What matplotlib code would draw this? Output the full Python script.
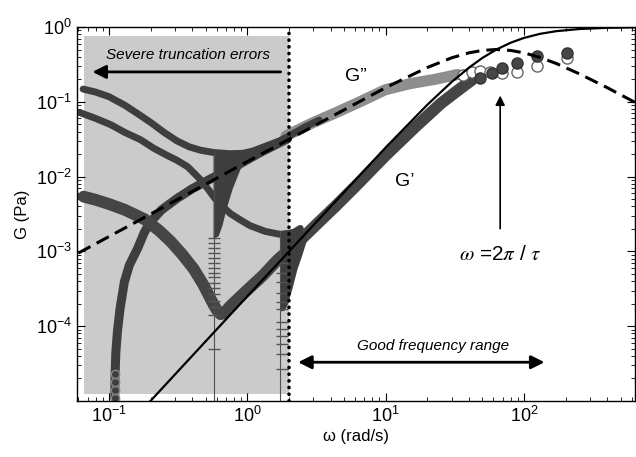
import matplotlib
matplotlib.use("Agg")
import matplotlib.pyplot as plt

plt.rcParams['font.family'] = ['Liberation Sans', 'DejaVu Sans']
plt.rcParams['mathtext.fontset'] = 'stix'

# Maxwell model curves
model_w = [0.06, 0.19, 1, 10, 20, 30, 40, 50, 63, 80, 100, 130, 170, 250, 400, 700]
g_loss_model = [9.5e-4, 3.0e-3, 0.0159, 0.155, 0.288, 0.388, 0.452, 0.487, 0.5,
                0.486, 0.451, 0.392, 0.326, 0.237, 0.154, 0.089]
g_store_model = [9.1e-7, 9.1e-6, 2.52e-4, 0.0246, 0.0916, 0.185, 0.287, 0.387, 0.5,
                 0.617, 0.716, 0.81, 0.879, 0.94, 0.976, 0.992]

# measured G'' : upper truncated branch, then good range
gpp_a_w = [0.065, 0.08, 0.1, 0.13, 0.16, 0.2, 0.25, 0.31, 0.38, 0.46, 0.57, 0.75, 0.93,
           1.1, 1.39, 1.7, 1.95, 2.6, 3.3]
gpp_a_g = [0.148, 0.135, 0.117, 0.09, 0.07, 0.053, 0.039, 0.03, 0.025, 0.0225, 0.021,
           0.0202, 0.0205, 0.022, 0.026, 0.03, 0.034, 0.046, 0.057]
gpp_w = [1.9, 3, 4.32, 6.5, 9.92, 15, 22.8, 33]
gpp_g = [0.035, 0.053, 0.071, 0.1, 0.145, 0.175, 0.2, 0.232]

# second truncated branch
b_w = [0.062, 0.08, 0.103, 0.13, 0.169, 0.21, 0.256, 0.31, 0.369, 0.41, 0.458, 0.52,
       0.578, 0.66, 0.754, 0.9, 1.05, 1.35, 1.73, 2.11, 2.41]
b_g = [0.0714, 0.06, 0.0494, 0.039, 0.0311, 0.024, 0.0197, 0.0165, 0.0136, 0.0112,
       0.0091, 0.0068, 0.0052, 0.004, 0.0032, 0.0026, 0.0022, 0.00185, 0.00169,
       0.00174, 0.00203]

# rising branch from omega ~ 0.11
d_w = [0.11, 0.1105, 0.112, 0.115, 0.12, 0.129, 0.14, 0.161, 0.18, 0.2, 0.24, 0.31,
       0.4, 0.54, 0.85, 1.24, 1.95]
d_g = [1.1e-5, 2.2e-5, 4.5e-5, 8.5e-5, 1.7e-4, 3.9e-4, 6.5e-4, 1.1e-3, 1.8e-3, 2.5e-3,
       3.6e-3, 5.1e-3, 6.9e-3, 9.3e-3, 0.0142, 0.021, 0.032]

# measured G' : lower truncated branch, then good range
gp_w = [0.0655, 0.08, 0.1, 0.13, 0.18, 0.23, 0.28, 0.34, 0.41, 0.48, 0.55, 0.6, 0.64,
        0.68, 0.75, 0.95, 1.3, 1.65, 1.88, 2.4, 3.2, 4.32, 6.03, 9.92, 16.3, 25, 32, 42]
gp_g = [5.4e-3, 4.9e-3, 4.3e-3, 3.6e-3, 2.7e-3, 1.9e-3, 1.35e-3, 9e-4, 5.8e-4, 3.6e-4,
        2.2e-4, 1.65e-4, 1.45e-4, 1.5e-4, 1.85e-4, 2.8e-4, 4.8e-4, 7.7e-4, 9.5e-4,
        1.4e-3, 2.35e-3, 4.0e-3, 7.4e-3, 0.019, 0.046, 0.095, 0.135, 0.197]

# sparse high-frequency points
gp_pts_w = [48, 58.7, 69.4, 89, 124, 204]
gp_pts_g = [0.21, 0.243, 0.284, 0.331, 0.41, 0.45]
gpp_pts_w = [36.3, 42.1, 48, 56.8, 69.4, 89, 124, 204]
gpp_pts_g = [0.229, 0.251, 0.259, 0.251, 0.243, 0.251, 0.302, 0.386]

# spikes with error bars near sign changes
wedge1_w = [0.569, 1.14, 1.0, 0.89, 0.78, 0.705, 0.66, 0.62, 0.569]
wedge1_g = [0.0216, 0.023, 0.017, 0.0124, 0.0067, 0.0036, 0.0022, 0.0016, 0.00145]
wedge2_w = [1.73, 2.41, 2.71, 2.5, 2.3, 2.11, 1.95, 1.85, 1.73]
wedge2_g = [1.85e-3, 2.09e-3, 1.45e-3, 9e-4, 5.75e-4, 3.1e-4, 1.9e-4, 1.6e-4, 1.58e-4]
err1_w = 0.575
err1_g = [1.5e-3, 1.3e-3, 1.1e-3, 9.5e-4, 8.2e-4, 7e-4, 6e-4, 5.2e-4, 4.5e-4, 3.8e-4,
          3.2e-4, 2.7e-4, 2.2e-4, 1.8e-4, 1.4e-4, 4.9e-5]
err2_w = 1.78
err2_g = [7.1e-4, 5.2e-4, 3.9e-4, 2.8e-4, 2.1e-4, 1.7e-4, 1.14e-4, 9.3e-5, 7.5e-5,
          5.8e-5, 4.3e-5, 2.7e-5]
low_pts_w = [0.11, 0.11, 0.11, 0.11]
low_pts_g = [1.1e-5, 1.4e-5, 1.8e-5, 2.3e-5]

fig = plt.figure(figsize=(6.36, 4.57), dpi=100)
ax = fig.add_axes([0.1211, 0.1225, 0.8774, 0.8184])
ax.set_xscale('log')
ax.set_yscale('log')
ax.set_xlim(0.0587, 633)
ax.set_ylim(1e-5, 1)

dark = '#3e3e3e'
ax.axvspan(0.0655, 2.0, ymin=0.019, ymax=0.976, color='#cbcbcb', lw=0, zorder=0)

band = dict(solid_capstyle='round', solid_joinstyle='round', zorder=2)
ax.plot(gpp_w, gpp_g, color='#8e8e8e', lw=8, **band)
ax.plot(gpp_a_w, gpp_a_g, color=dark, lw=5, **band)
ax.plot(b_w, b_g, color=dark, lw=5, **band)
ax.plot(d_w, d_g, color=dark, lw=6.5, **band)
ax.plot(gp_w, gp_g, color='#454545', lw=8.5, **band)
ax.fill(wedge1_w, wedge1_g, color=dark, lw=0, zorder=2)
ax.fill(wedge2_w, wedge2_g, color=dark, lw=0, zorder=2)

ax.plot([err1_w, err1_w], [1e-5, 0.021], color='#505050', lw=0.8, zorder=2)
ax.plot([1.73, 1.73], [1e-5, 1.85e-3], color='#505050', lw=0.8, zorder=2)
ax.plot([err1_w] * len(err1_g), err1_g, ls='none', marker='_', ms=9, mew=1,
        color='#555555', zorder=2)
ax.plot([err2_w] * len(err2_g), err2_g, ls='none', marker='_', ms=9, mew=1,
        color='#555555', zorder=2)
ax.plot(low_pts_w, low_pts_g, ls='none', marker='o', ms=6, mfc='none', mec='#888888',
        mew=1, zorder=2)

ax.plot(gpp_pts_w, gpp_pts_g, ls='none', marker='o', ms=8, mfc='white', mec='#666666',
        mew=1, zorder=3)
ax.plot(gp_pts_w, gp_pts_g, ls='none', marker='o', ms=8, mfc='#464646', mec='#333333',
        mew=1, zorder=4)

# model lines
ax.plot(model_w, g_loss_model, color='black', lw=2.2, ls=(0, (4.5, 2.3)), zorder=5)
ax.plot(model_w[1:], g_store_model[1:], color='black', lw=1.6, zorder=5)
ax.axvline(2.0, color='black', lw=2.6, ls=(0, (0.05, 1.8)), dash_capstyle='round', zorder=6)

# annotations
ax.annotate('', xy=(0.0724, 0.251), xytext=(1.82, 0.251),
            arrowprops=dict(arrowstyle='-|>', color='black', lw=2, mutation_scale=20), zorder=7)
ax.text(0.375, 0.423, 'Severe truncation errors', style='italic', fontsize=11,
        ha='center', va='center', zorder=7)
ax.annotate('', xy=(147, 3.3e-5), xytext=(2.22, 3.3e-5),
            arrowprops=dict(arrowstyle='<|-|>', color='black', lw=2, mutation_scale=20), zorder=7)
ax.text(22.0, 5.4e-5, 'Good frequency range', style='italic', fontsize=11,
        ha='center', va='center', zorder=7)
ax.annotate('', xy=(67.1, 0.132), xytext=(67.1, 1.85e-3),
            arrowprops=dict(arrowstyle='-|>', color='black', lw=1.2, mutation_scale=14), zorder=7)
ax.text(67.1, 9.1e-4, r'$\omega$ =2$\pi$ / $\tau$', fontsize=15, ha='center', va='center')
ax.text(6.03, 0.216, 'G\u201d', fontsize=14, ha='center', va='center')
ax.text(13.8, 8.6e-3, 'G\u2019', fontsize=14, ha='center', va='center')

ax.set_xticks([0.1, 1, 10, 100])
ax.set_yticks([1e-4, 1e-3, 1e-2, 1e-1, 1])
ax.tick_params(which='both', direction='in', top=True, right=True)
ax.tick_params(which='major', length=6, labelsize=13)
ax.tick_params(which='minor', length=3)
for s in ax.spines.values():
    s.set_linewidth(1)

ax.set_xlabel('\u03c9 (rad/s)', fontsize=12, labelpad=2)
ax.set_ylabel('G (Pa)', fontsize=12, labelpad=4)

fig.savefig('out.png', dpi=100)
